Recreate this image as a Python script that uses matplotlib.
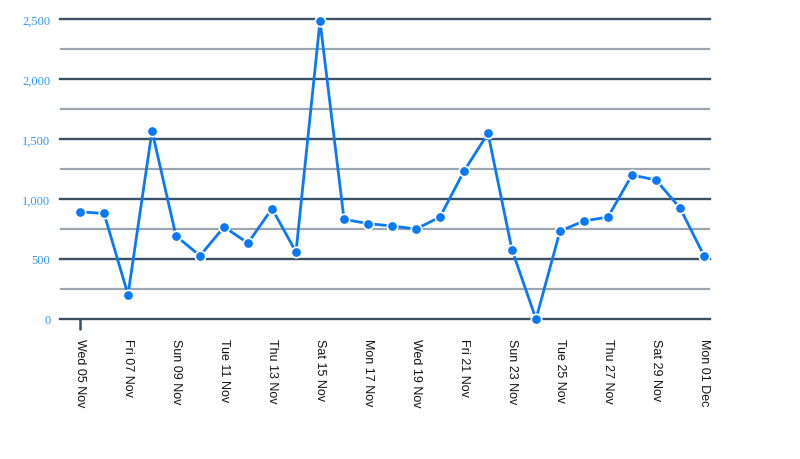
import matplotlib
matplotlib.use("Agg")
import matplotlib.pyplot as plt
import numpy as np

# Data
dates = ["Wed 05 Nov", "Thu 06 Nov", "Fri 07 Nov", "Sat 08 Nov", "Sun 09 Nov",
         "Mon 10 Nov", "Tue 11 Nov", "Wed 12 Nov", "Thu 13 Nov", "Fri 14 Nov",
         "Sat 15 Nov", "Sun 16 Nov", "Mon 17 Nov", "Tue 18 Nov", "Wed 19 Nov",
         "Thu 20 Nov", "Fri 21 Nov", "Sat 22 Nov", "Sun 23 Nov", "Mon 24 Nov",
         "Tue 25 Nov", "Wed 26 Nov", "Thu 27 Nov", "Fri 28 Nov", "Sat 29 Nov",
         "Sun 30 Nov", "Mon 01 Dec"]
values = [893, 880, 203, 1567, 692, 527, 767, 633, 920, 558,
          2483, 831, 795, 775, 750, 850, 1233, 1547, 575, 0,
          733, 817, 850, 1200, 1158, 925, 527]
yticks = [0, 500, 1000, 1500, 2000, 2500]
yminor = [250, 750, 1250, 1750, 2250]

fig = plt.figure(figsize=(8, 4.6), dpi=100)
ax = fig.add_axes([60/800, 1-320/460, 650/800, 300/460])

x = np.arange(len(values))

for v in yticks:
    ax.axhline(v, color="#3a5263", lw=1.7, zorder=1, clip_on=False)
for v in yminor:
    ax.axhline(v, color="#9aa7b1", lw=1.6, zorder=1)

ax.plot(x, values, color="#0a79f5", lw=2, marker="o", ms=7.5,
        markerfacecolor="#0a79f5", markeredgecolor="white", markeredgewidth=1.2,
        clip_on=False, zorder=3)

ax.set_xlim(-20/24, 630/24)
ax.set_ylim(0, 2500)

for s in ax.spines.values():
    s.set_visible(False)

ax.set_yticks(yticks)
ax.set_yticklabels([f"{v:,}" for v in yticks], family="Liberation Serif",
                   fontsize=9, color="#3399ff")
ax.tick_params(axis="y", length=0, pad=7)

ax.xaxis.remove_overlapping_locs = False
ax.set_xticks(x[::2])
ax.set_xticklabels(dates[::2], rotation=270, family="Liberation Sans",
                   fontsize=9, color="#111111", va="top", ha="center")
ax.tick_params(axis="x", length=0, pad=14)
# single tick mark at the first date
ax.set_xticks([x[0]], minor=True)
ax.tick_params(axis="x", which="minor", length=8, width=1.8, color="#3a5263")

fig.savefig("out.png", dpi=100)
